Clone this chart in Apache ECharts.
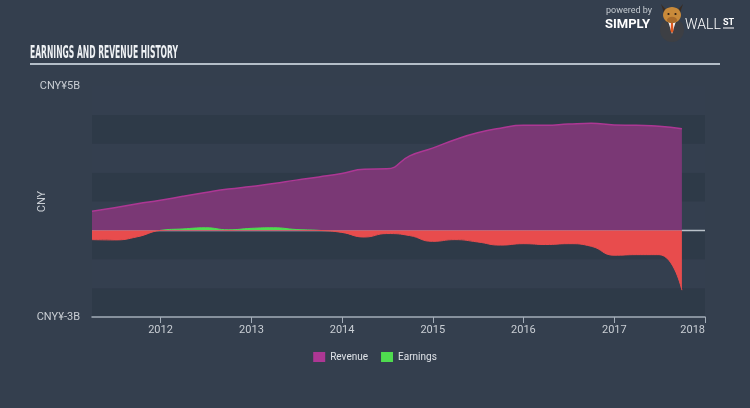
<!DOCTYPE html>
<html>
<head>
<meta charset="utf-8">
<script src="https://cdn.jsdelivr.net/npm/echarts@6/dist/echarts.min.js"></script>
<style>
html,body{margin:0;padding:0;background:#343f4e;}
#c{width:750px;height:408px;}
</style>
</head>
<body>
<div id="c"></div>
<script>
// ---- data ----
const quarters = ['2011-03-31','2011-06-30','2011-09-30','2011-12-31',
  '2012-03-31','2012-06-30','2012-09-30','2012-12-31',
  '2013-03-31','2013-06-30','2013-09-30','2013-12-31',
  '2014-03-31','2014-06-30','2014-09-30','2014-12-31',
  '2015-03-31','2015-06-30','2015-09-30','2015-12-31',
  '2016-03-31','2016-06-30','2016-09-30','2016-12-31',
  '2017-03-31','2017-06-30','2017-09-30'];
// CNY billions
const revenue = [0.66,0.78,0.92,1.04,
  1.18,1.31,1.43,1.52,
  1.62,1.74,1.85,1.97,
  2.12,2.13,2.58,2.85,
  3.14,3.38,3.54,3.64,
  3.64,3.68,3.71,3.65,
  3.64,3.61,3.52];
const earnings = [-0.32,-0.33,-0.22,0.0,
  0.05,0.09,0.02,0.07,
  0.09,0.03,0.0,-0.07,
  -0.23,-0.11,-0.18,-0.38,
  -0.32,-0.40,-0.51,-0.46,
  -0.49,-0.46,-0.55,-0.86,
  -0.84,-0.84,-2.07];
const yTickLabels = { '5': 'CNY¥5B', '-3': 'CNY¥-3B' };
const xRange = ['2011-03-31', '2018-01-01'];
const seriesNames = ['Revenue', 'Earnings'];
const titleText = 'EARNINGS AND REVENUE HISTORY';

// ---- styles ----
const C = {
  bg: '#343f4e', stripeDark: '#2e3a48', stripeLight: '#343f4f',
  revLine: '#ad3794', revFill: '#7a3875',
  green: '#4fdc4f', red: '#e84c4d',
  label: '#c9ced4', axis: '#a3adb8'
};
const FONT = 'Roboto, "Open Sans", sans-serif';

const chart = echarts.init(document.getElementById('c'), null, { renderer: 'canvas' });

const titleFont = 'bold 17px "DejaVu Sans Condensed", "DejaVu Sans", sans-serif';
const mc = document.createElement('canvas').getContext('2d');
mc.font = titleFont;
const tw = mc.measureText(titleText).width;
const titleScale = 148 / tw;

const revData = quarters.map((d, i) => [d, revenue[i]]);
const earnData = quarters.map((d, i) => [d, earnings[i]]);
const zeroData = xRange.map(d => [d, 0]);

const option = {
  backgroundColor: C.bg,
  animation: false,
  textStyle: { fontFamily: FONT },
  grid: { left: 92, right: 45, top: 86, bottom: 91 },
  legend: {
    data: [
      { name: seriesNames[0], itemStyle: { color: C.revLine } },
      { name: seriesNames[1], itemStyle: { color: C.green } }
    ],
    bottom: 41, left: 'center',
    itemWidth: 12, itemHeight: 10, itemGap: 13,
    icon: 'rect',
    textStyle: { color: '#dfe3e8', fontSize: 10, fontFamily: FONT },
    selectedMode: false
  },
  xAxis: {
    type: 'time',
    min: xRange[0], max: xRange[1],
    minInterval: 365 * 86400000, maxInterval: 366 * 86400000,
    axisLine: { show: true, onZero: false, lineStyle: { color: C.axis, width: 1.5 } },
    axisTick: { show: true, length: 6, lineStyle: { color: C.axis } },
    splitLine: { show: false },
    axisLabel: {
      formatter: '{yyyy}', color: C.label, fontSize: 11, fontFamily: FONT,
      margin: 8, showMinLabel: false, showMaxLabel: true, alignMaxLabel: 'right', hideOverlap: false
    }
  },
  yAxis: {
    type: 'value', min: -3, max: 5, interval: 1,
    name: 'CNY', nameLocation: 'middle', nameGap: 44, nameMoveOverlap: false,
    nameTextStyle: { color: C.label, fontSize: 11, fontFamily: FONT },
    axisLine: { show: false }, axisTick: { show: false },
    splitLine: { show: false },
    splitArea: { show: true, areaStyle: { color: [C.stripeDark, C.stripeLight] } },
    axisLabel: {
      color: C.label, fontSize: 11, fontFamily: FONT, margin: 12,
      formatter: v => yTickLabels[String(v)] || ''
    }
  },
  visualMap: {
    type: 'piecewise', show: false, seriesIndex: 2, dimension: 1,
    pieces: [{ gt: -100, lte: 0, color: C.red }, { gt: 0, lte: 100, color: C.green }],
    outOfRange: { color: C.red }
  },
  series: [
    {
      name: 'zero', type: 'line', data: zeroData, z: 1, silent: true,
      showSymbol: false, lineStyle: { color: '#b9c1c9', width: 1.5 }
    },
    {
      name: seriesNames[0], type: 'line', data: revData, z: 2,
      smooth: 0.5, showSymbol: false,
      itemStyle: { color: C.revLine },
      lineStyle: { color: C.revLine, width: 1.5 },
      areaStyle: { color: C.revFill, opacity: 1 }
    },
    {
      name: seriesNames[1], type: 'line', data: earnData, z: 3,
      smooth: 0.5, showSymbol: false,
      itemStyle: { color: C.green },
      lineStyle: { width: 1 },
      areaStyle: { opacity: 1 }
    }
  ],
  graphic: [
    {
      type: 'text', left: 30, top: 45, z: 10,
      scaleX: titleScale,
      style: { text: titleText, font: titleFont, fill: '#eef1f4' }
    },
    {
      type: 'rect', shape: { x: 30, y: 63, width: 690, height: 2 },
      style: { fill: '#b4bec8' }, z: 10
    },
    // logo
    {
      type: 'group', left: 605, top: 4, z: 10,
      children: [
        { type: 'text', x: 2, y: 4, style: { text: 'powered by', font: '9px ' + FONT, fill: '#c3c9cf' } },
        { type: 'text', x: 1, y: 16, style: { text: 'SIMPLY', font: 'bold 13px ' + FONT, fill: '#ffffff' } },
        // suit
        { type: 'circle', shape: { cx: 68, cy: 28, r: 12 }, style: { fill: '#3d3f44' } },
        { type: 'polygon', shape: { points: [[64, 19], [72, 19], [68, 32]] }, style: { fill: '#f2f2f2' } },
        { type: 'polygon', shape: { points: [[67, 21], [69, 21], [69.5, 29], [68, 31], [66.5, 29]] }, style: { fill: '#e2571e' } },
        // horns
        { type: 'polygon', shape: { points: [[57, 2], [60, 11], [63, 9]] }, style: { fill: '#3a2c22' } },
        { type: 'polygon', shape: { points: [[79, 2], [76, 11], [73, 9]] }, style: { fill: '#3a2c22' } },
        // head
        { type: 'ellipse', shape: { cx: 68, cy: 13, rx: 9, ry: 8 }, style: { fill: '#c88a3a' } },
        { type: 'ellipse', shape: { cx: 68, cy: 18, rx: 5, ry: 3.2 }, style: { fill: '#a86a2a' } },
        { type: 'circle', shape: { cx: 64.5, cy: 12, r: 1.1 }, style: { fill: '#2a1d14' } },
        { type: 'circle', shape: { cx: 71.5, cy: 12, r: 1.1 }, style: { fill: '#2a1d14' } },
        { type: 'text', x: 81, y: 16, style: { text: 'WALL', font: '300 14px ' + FONT, fill: '#ffffff' } },
        { type: 'text', x: 119, y: 16, style: { text: 'ST', font: 'bold 9px ' + FONT, fill: '#ffffff' } },
        { type: 'rect', shape: { x: 119, y: 25.5, width: 11, height: 1 }, style: { fill: '#ffffff' } }
      ]
    }
  ]
};
chart.setOption(option);
</script>
</body>
</html>
